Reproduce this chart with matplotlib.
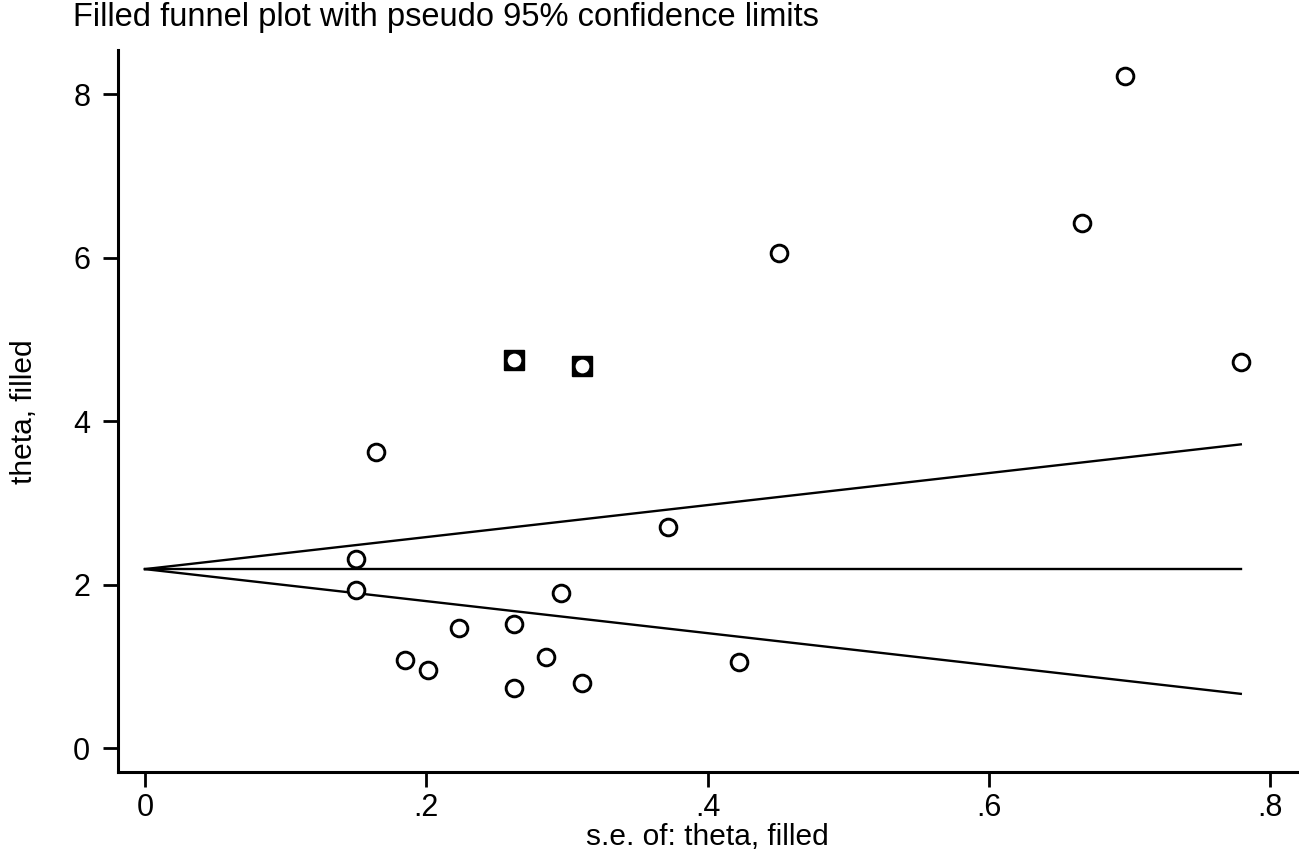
import matplotlib.pyplot as plt

plt.rcParams['font.family'] = ['Liberation Sans', 'DejaVu Sans']

# observed studies
se_obs = [0.697, 0.666, 0.451, 0.779, 0.164, 0.372, 0.150, 0.150, 0.296,
          0.223, 0.262, 0.185, 0.201, 0.285, 0.422, 0.262, 0.311]
theta_obs = [8.23, 6.43, 6.06, 4.73, 3.62, 2.70, 2.31, 1.94, 1.90,
             1.47, 1.52, 1.08, 0.95, 1.11, 1.05, 0.73, 0.80]

# filled (imputed) studies
se_fill = [0.262, 0.311]
theta_fill = [4.75, 4.68]

# pooled estimate and pseudo 95% limits
theta_pooled = 2.19
se_max = 0.779
lim_se = [0, se_max]
lim_upper = [theta_pooled, theta_pooled + 1.96 * se_max]
lim_lower = [theta_pooled, theta_pooled - 1.96 * se_max]

fig = plt.figure(figsize=(12.99, 8.51), dpi=100)
ax = fig.add_axes([0.0908, 0.0928, 0.9077, 0.848])

ax.plot(lim_se, lim_upper, color='black', lw=1.7)
ax.plot(lim_se, [theta_pooled, theta_pooled], color='black', lw=1.7)
ax.plot(lim_se, lim_lower, color='black', lw=1.7)

ax.plot(se_fill, theta_fill, linestyle='none', marker='s', ms=14.5,
        mfc='black', mec='black', zorder=3)
ax.plot(se_obs + se_fill, theta_obs + theta_fill, linestyle='none', marker='o',
        ms=12, mfc='white', mec='black', mew=2.1, zorder=4)

ax.set_xlim(-0.0192, 0.819)
ax.set_ylim(-0.294, 8.54)
ax.set_xticks([0, 0.2, 0.4, 0.6, 0.8])
ax.set_xticklabels(['0', '.2', '.4', '.6', '.8'])
ax.set_yticks([0, 2, 4, 6, 8])

for s in ['top', 'right']:
    ax.spines[s].set_visible(False)
for s in ['left', 'bottom']:
    ax.spines[s].set_linewidth(2.2)
ax.tick_params(length=11, width=2, labelsize=22)
ax.tick_params(axis='x', pad=4)
ax.tick_params(axis='y', pad=9)

ax.set_xlabel('s.e. of: theta, filled', fontsize=21.5)
ax.set_ylabel('theta, filled', fontsize=21.5)
ax.xaxis.set_label_coords(0.5, -0.071)
ax.yaxis.set_label_coords(-0.068, 0.5)
fig.text(0.056, 0.979, 'Filled funnel plot with pseudo 95% confidence limits',
         fontsize=23.5, ha='left', va='center')

fig.savefig('out.png', dpi=100)
